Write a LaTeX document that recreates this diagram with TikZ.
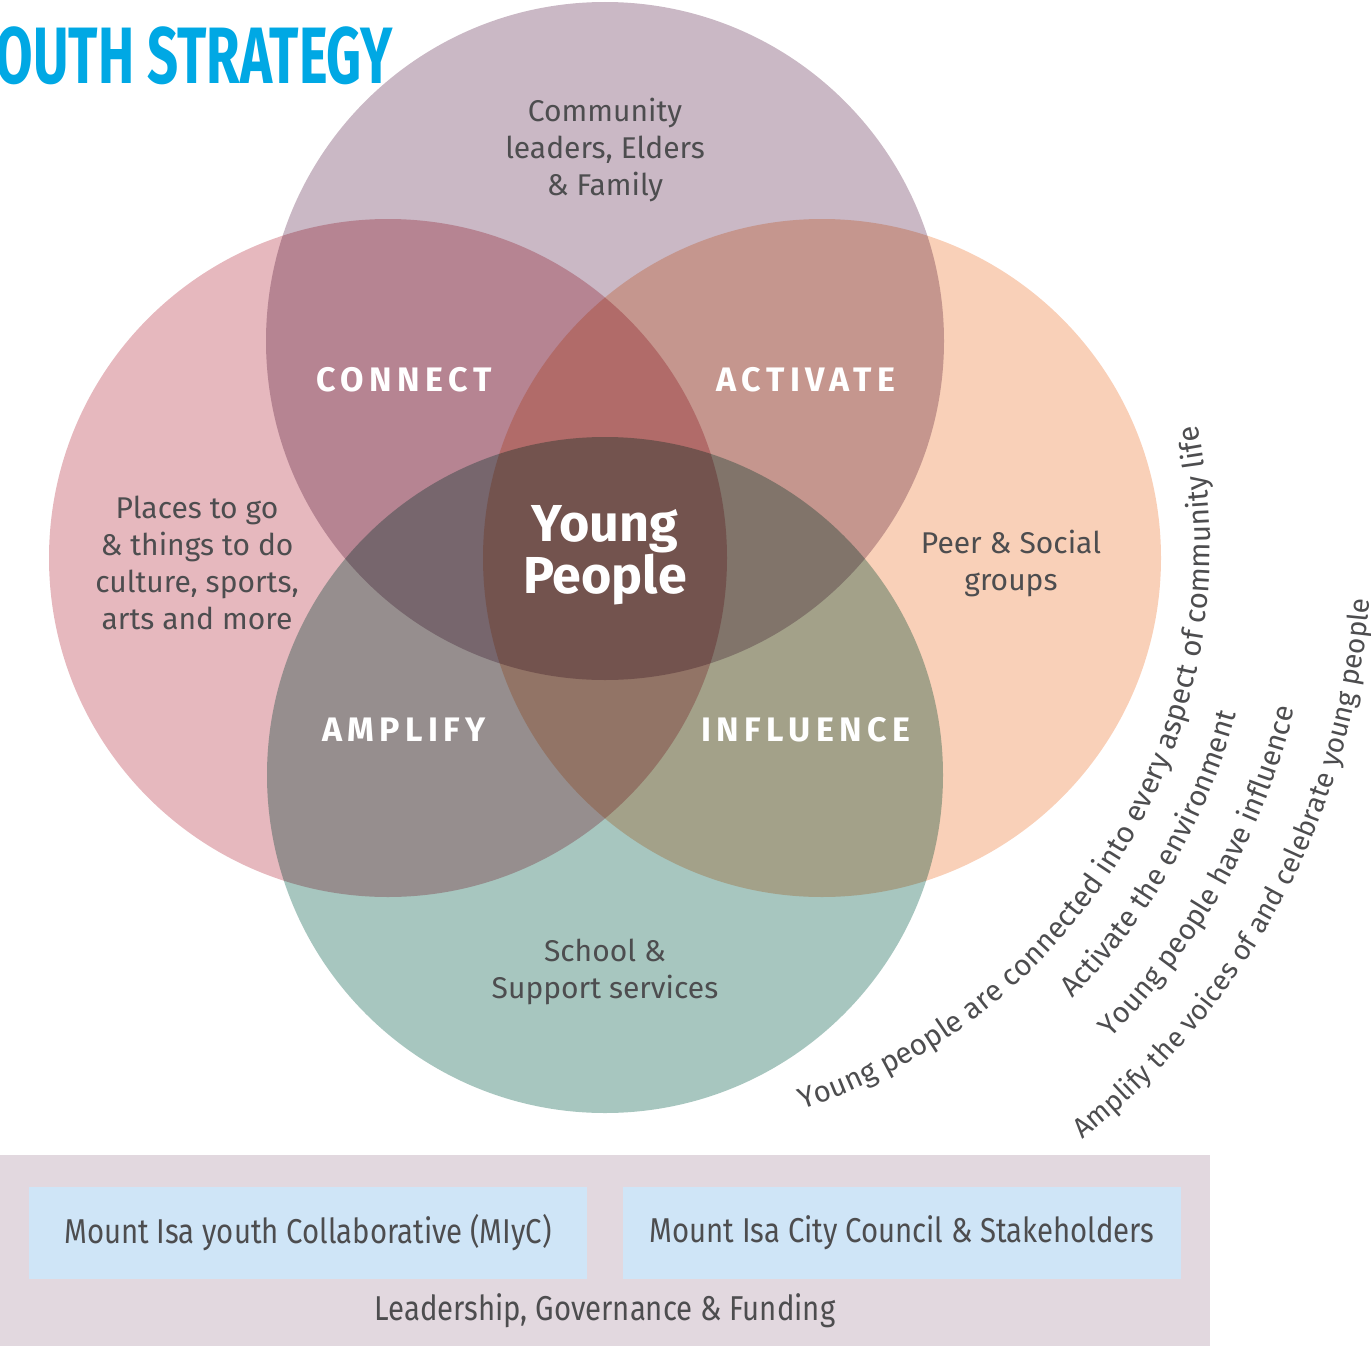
\documentclass[tikz,border=0pt]{standalone}
\usepackage{fontspec}
\setmainfont{Fira Sans}
\newfontfamily\titlefont[FakeStretch=0.68]{Fira Sans}
\newfontfamily\lblfont[LetterSpace=16]{Fira Sans}
\newfontfamily\condfont[FakeStretch=0.85]{Fira Sans}
\usetikzlibrary{decorations.text}
\definecolor{ctop}{HTML}{CAB8C5}
\definecolor{cleft}{HTML}{E6B8BE}
\definecolor{cright}{HTML}{F9D0B8}
\definecolor{cbot}{HTML}{A7C6BF}
\definecolor{txt}{HTML}{4D4D4F}
\definecolor{titleblue}{HTML}{00A8E4}
\definecolor{panel}{HTML}{E2D8DF}
\definecolor{boxblue}{HTML}{CFE5F7}
\tikzset{
  body/.style={text=txt, align=center, inner sep=0pt, font=\fontsize{30}{37}\selectfont},
  verb/.style={text=white, inner sep=0pt, font=\lblfont\bfseries\fontsize{34}{36}\selectfont},
  bluebox/.style={fill=boxblue, minimum width=558pt, minimum height=92pt, inner sep=0pt, text=txt, font=\condfont\fontsize{34.5}{36}\selectfont},
  curvetext/.style={decorate, decoration={text along path, text align=center, text color=txt}}
}
\begin{document}
\begin{tikzpicture}[x=1pt,y=1pt]
\useasboundingbox (0,0) rectangle (1371,-1346);
% circles with multiply blending
\begin{scope}[blend group=multiply]
  \fill[ctop]   (605,-341) circle[radius=339];
  \fill[cleft]  (388,-558) circle[radius=339];
  \fill[cright] (822,-558) circle[radius=339];
  \fill[cbot]   (605,-775) circle[radius=338];
\end{scope}
% title
\node[anchor=east, inner sep=0pt, text=titleblue, font=\titlefont\bfseries\fontsize{80}{80}\selectfont] (title) at (393,-56) {OUTH STRATEGY};
% circle labels
\node[body] (community) at (605,-150) {Community\\leaders, Elders\\\& Family};
\node[body] (places) at (197,-563) {Places to go\\\& things to do\\culture, sports,\\arts and more};
\node[body] (peer) at (1011,-563) {Peer \& Social\\groups};
\node[body] (school) at (605,-972) {School \&\\Support services};
% verbs
\node[verb] (connect) at (404,-380) {CONNECT};
\node[verb] (activate) at (806,-380) {ACTIVATE};
\node[verb] (amplify) at (404,-730) {AMPLIFY};
\node[verb] (influence) at (806,-730) {INFLUENCE};
% centre
\node[text=white, align=center, inner sep=0pt, font=\bfseries\fontsize{52}{46}\selectfont] (young) at (605,-555) {Young\\People};
% curved texts
\path[curvetext, decoration={text={|\fontsize{29.5}{30}\selectfont|Young people are connected into every aspect of community life}}]
  ([shift={(615,-545)}]-80:595) arc[start angle=-80, end angle=20, radius=595];
\path[curvetext, decoration={text={|\fontsize{29}{30}\selectfont|Activate the environment}}]
  ([shift={(615,-545)}]-75:644) arc[start angle=-75, end angle=15, radius=644];
\path[curvetext, decoration={text={|\fontsize{29}{30}\selectfont|Young people have influence}}]
  ([shift={(615,-545)}]-74.2:699) arc[start angle=-74.2, end angle=15.8, radius=699];
\path[curvetext, decoration={text={|\fontsize{28}{30}\selectfont|Amplify the voices of and celebrate young people}}]
  ([shift={(615,-545)}]-73:756) arc[start angle=-73, end angle=17, radius=756];
% bottom panel
\fill[panel] (0,-1155) rectangle (1210,-1346);
\node[bluebox] (miyc) at (308,-1233) {Mount Isa youth Collaborative (MIyC)};
\node[bluebox] (council) at (902,-1233) {Mount Isa City Council \& Stakeholders};
\node[text=txt, inner sep=0pt, font=\condfont\fontsize{34.5}{36}\selectfont] (leadership) at (605,-1311) {Leadership, Governance \& Funding};
\end{tikzpicture}
\end{document}
